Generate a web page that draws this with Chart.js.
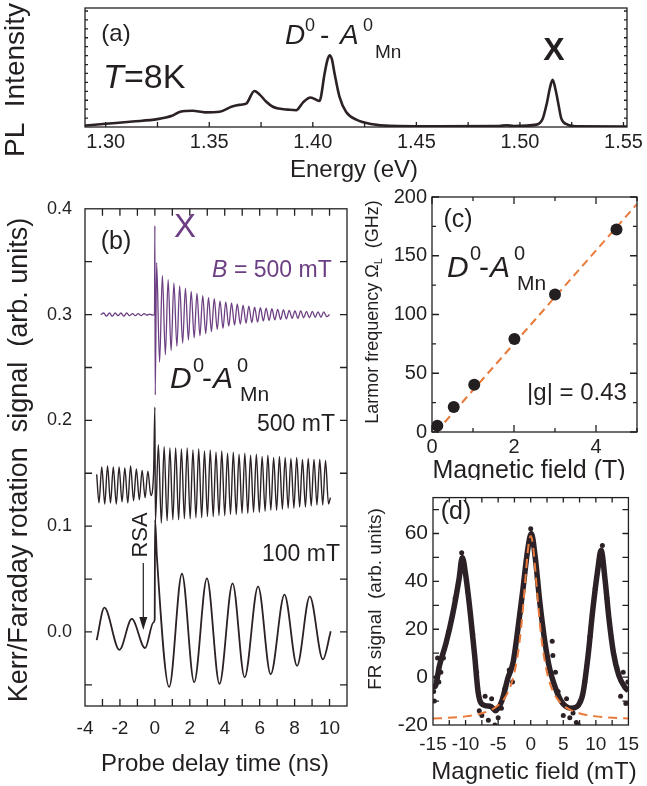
<!DOCTYPE html>
<html>
<head>
<meta charset="utf-8">
<script src="https://cdn.jsdelivr.net/npm/chart.js@4.4.1/dist/chart.umd.min.js"></script>
<style>
  body { margin: 0; background: #fff; width: 647px; height: 786px; position: relative; overflow: hidden; }
  canvas { position: absolute; }
</style>
</head>
<body>
<canvas id="pa" style="left:0px;top:0px" width="647" height="185"></canvas>
<canvas id="pb" style="left:0px;top:185px" width="360" height="601"></canvas>
<canvas id="pc" style="left:360px;top:180px" width="287" height="300"></canvas>
<canvas id="pd" style="left:360px;top:480px" width="287" height="306"></canvas>
<script>
var INK = '#231f20';
var TRACE = '#2b2126';
var PURPLE = '#6c3f82';
var ORANGE = '#e87a3c';
var FONT = "'Liberation Sans', Arial, Helvetica, sans-serif";

// (a) PL spectrum, [energy eV, intensity]
var plSpectrum = [
  [1.290,0.012],[1.300,0.027],[1.313,0.046],[1.325,0.066],[1.332,0.094],[1.336,0.128],[1.342,0.136],
  [1.348,0.123],[1.355,0.128],[1.361,0.172],[1.3645,0.186],[1.3678,0.196],[1.3718,0.303],[1.3745,0.27],
  [1.3774,0.214],[1.3807,0.17],[1.3836,0.155],[1.388,0.146],[1.392,0.141],[1.3952,0.205],[1.3989,0.248],
  [1.4032,0.219],[1.4057,0.45],[1.407,0.56],[1.4081,0.603],[1.4092,0.57],[1.4105,0.45],[1.4129,0.253],
  [1.4161,0.126],[1.421,0.062],[1.429,0.023],[1.437,0.01],[1.46,0.006],[1.49,0.008],[1.4935,0.015],
  [1.497,0.008],[1.508,0.02],[1.511,0.07],[1.513,0.2],[1.5145,0.33],[1.5158,0.396],[1.517,0.33],
  [1.5185,0.2],[1.52,0.07],[1.523,0.02],[1.527,0.006],[1.5517,0.004]
];
var aLabels = [1.30, 1.35, 1.40, 1.45, 1.50, 1.55];
var aMarksX = [1.30,1.325,1.35,1.375,1.40,1.425,1.45,1.475,1.50,1.525,1.55];
var aMarksY = [0.075,0.15,0.225,0.3,0.375,0.45,0.525,0.6,0.675,0.75,0.825,0.9,0.975];

// (b) time traces, [delay ns, signal]
var purpleTrace = [
  [-3.1,0.300],[-2.93,0.3015],[-2.77,0.2985],[-2.6,0.3015],[-2.44,0.2985],[-2.27,0.3015],[-2.11,0.299],
  [-1.94,0.3015],[-1.78,0.2985],[-1.61,0.3015],[-1.45,0.299],[-1.28,0.301],[-1.12,0.299],[-0.95,0.301],
  [-0.79,0.299],[-0.62,0.301],[-0.46,0.2995],[-0.29,0.3005],[-0.13,0.2995],[-0.02,0.300],
  [0.0,0.384],[0.02,0.224],[0.1,0.349],[0.27,0.255],[0.43,0.337],[0.6,0.262],[0.76,0.333],[0.93,0.266],
  [1.09,0.330],[1.26,0.270],[1.42,0.327],[1.59,0.273],[1.75,0.325],[1.92,0.276],[2.08,0.322],[2.25,0.278],
  [2.41,0.320],[2.58,0.280],[2.74,0.318],[2.91,0.282],[3.07,0.316],[3.24,0.284],[3.4,0.315],[3.57,0.286],
  [3.73,0.313],[3.9,0.287],[4.06,0.312],[4.23,0.289],[4.39,0.311],[4.56,0.290],[4.72,0.310],[4.89,0.291],
  [5.05,0.309],[5.22,0.292],[5.38,0.308],[5.55,0.2925],[5.71,0.307],[5.88,0.293],[6.04,0.3065],[6.21,0.294],
  [6.37,0.306],[6.54,0.2945],[6.7,0.3055],[6.87,0.295],[7.03,0.305],[7.2,0.2955],[7.36,0.3045],[7.53,0.296],
  [7.69,0.304],[7.86,0.2965],[8.02,0.3035],[8.19,0.2965],[8.35,0.3035],[8.52,0.297],[8.68,0.303],[8.85,0.297],
  [9.01,0.303],[9.18,0.2975],[9.34,0.3025],[9.51,0.2975],[9.67,0.3025],[9.84,0.298],[10.0,0.300]
];
var trace500 = [
  [-3.33,0.149],[-3.2,0.122],[-3.04,0.156],[-2.87,0.121],[-2.71,0.157],[-2.54,0.122],[-2.38,0.156],
  [-2.21,0.121],[-2.05,0.156],[-1.88,0.123],[-1.72,0.155],[-1.55,0.122],[-1.39,0.157],[-1.22,0.124],
  [-1.06,0.154],[-0.89,0.125],[-0.73,0.153],[-0.56,0.127],[-0.4,0.152],[-0.23,0.129],[-0.07,0.152],
  [0.0,0.2125],[0.03,0.104],
  [0.2,0.177],[0.37,0.103],[0.53,0.175],[0.7,0.105],[0.86,0.174],[1.03,0.106],[1.19,0.174],[1.36,0.106],
  [1.52,0.173],[1.69,0.107],[1.85,0.174],[2.02,0.107],[2.18,0.172],[2.35,0.108],[2.51,0.173],[2.68,0.108],
  [2.84,0.171],[3.01,0.109],[3.17,0.172],[3.34,0.109],[3.5,0.170],[3.67,0.110],[3.83,0.171],[4.0,0.110],
  [4.16,0.169],[4.33,0.111],[4.49,0.170],[4.66,0.111],[4.82,0.168],[4.99,0.112],[5.15,0.169],[5.32,0.112],
  [5.48,0.167],[5.65,0.113],[5.81,0.168],[5.98,0.113],[6.14,0.166],[6.31,0.114],[6.47,0.167],[6.64,0.115],
  [6.8,0.165],[6.97,0.115],[7.13,0.166],[7.3,0.116],[7.46,0.165],[7.63,0.117],[7.79,0.164],[7.96,0.117],
  [8.12,0.165],[8.29,0.118],[8.45,0.163],[8.62,0.118],[8.78,0.164],[8.95,0.119],[9.11,0.163],[9.28,0.120],
  [9.44,0.163],[9.61,0.120],[9.77,0.162],[9.94,0.121],[10.05,0.127]
];
var trace100 = [
  [-3.33,-0.0077],[-2.89,0.023],[-2.03,-0.0169],[-1.32,0.0123],[-0.56,-0.0153],[-0.08,0.009],[-0.01,0.012],
  [0.01,0.106],[0.12,0.07],[0.82,-0.052],[1.55,0.055],[2.25,-0.0475],[2.98,0.0506],[3.70,-0.049],
  [4.45,0.046],[5.14,-0.043],[5.91,0.043],[6.63,-0.040],[7.42,0.0353],[8.14,-0.032],[8.87,0.0337],
  [9.62,-0.026],[10.07,0.0006]
];
var bLabelsX = [-4, -2, 0, 2, 4, 6, 8, 10];
var bLabelsY = [0.0, 0.1, 0.2, 0.3, 0.4];
var bMarksX = [-3,-2,-1,0,1,2,3,4,5,6,7,8,9,10];
var bMarksY = [-0.05,0,0.05,0.1,0.15,0.2,0.25,0.3,0.35];

// (c) Larmor frequency vs field, [T, GHz]
var larmorPoints = [[0.13,5.3],[0.53,21.2],[1.03,40.2],[2.01,79.2],[3.0,117],[4.5,172.4]];
var larmorFit = [[0.1,0],[5,194]];
var cLabelsX = [0, 2, 4];
var cLabelsY = [0, 50, 100, 150, 200];
var cMinorX = [1, 3, 5];
var cMinorY = [25, 75, 125, 175];

// (d) FR signal vs field, [mT, signal]
var frBand = [
  [-15,-3],[-14.7,-4],[-14.0,4.9],[-13.0,14.2],[-12.0,26],[-11.0,41],[-10.5,50],[-10.0,43],[-9.3,27.4],
  [-8.6,8.9],[-8.1,-5.7],[-7.6,-11],[-6.8,-12],[-6.1,-12.3],[-5.4,-14],[-4.4,-9.7],[-3.5,-0.4],[-2.7,6.2],
  [-2.0,19.4],[-1.2,36.6],[-0.5,52.5],[0.1,60],[0.7,49.9],[1.4,31.3],[2.2,14.2],[2.9,3.6],[3.6,-3],
  [4.6,-9.7],[5.3,-12],[6.1,-13],[7.1,-12.3],[8.0,-7],[8.8,8.9],[9.5,27.4],[10.3,45],[10.8,53],
  [11.4,41],[12.0,24.7],[12.7,10.2],[13.5,0.9],[14.5,-4.4],[15,-5.7]
];
var frNoise = [
  [-14.8,-10],[-14.5,0],[-14.3,8],[-13.8,2],[-14.9,-6],[-14.1,-2],[-13.4,8],[-12.6,19],[-11.6,33],
  [-9.7,36],[-8.9,18],[-8.3,2],[-7.9,-14],[-7.5,-16],[-7,-8],[-6.5,-18],[-6,-9],[-5.5,-20],[-5,-17],
  [-4.5,-13],[-4,-5],[-3.3,3],[-2.8,-2],[-2.3,12],[-1.6,27],[-0.8,46],[0.4,56],[1.0,41],[1.8,22],
  [2.6,8],[3.3,15],[3.4,9],[3.8,2],[4.2,-6],[5,-16],[5.5,-9],[6,-17],[6.5,-15],[7,-19],[7.3,-20],
  [7.6,-10],[8.3,-2],[9.1,17],[9.9,37],[11.7,33],[12.4,16],[13.2,4],[13.8,-8],[14.6,-11],[14.2,2],
  [14.9,-2],[-10.6,52],[0,62],[11,55],[-10.3,46],[10.9,48]
];
var frFit = [
  [-15,-17.3],[-12,-16.9],[-10,-16.4],[-8,-15.5],[-7,-14.7],[-6,-13.6],[-5,-11.8],[-4,-8.8],[-3.5,-6.4],
  [-3,-3.0],[-2.5,1.9],[-2,9.2],[-1.75,14.0],[-1.5,19.9],[-1.25,26.9],[-1,34.8],[-0.75,43.2],[-0.5,51.1],
  [-0.25,56.9],[0,59],[0.25,56.9],[0.5,51.1],[0.75,43.2],[1,34.8],[1.25,26.9],[1.5,19.9],[1.75,14.0],
  [2,9.2],[2.5,1.9],[3,-3.0],[3.5,-6.4],[4,-8.8],[5,-11.8],[6,-13.6],[7,-14.7],[8,-15.5],[10,-16.4],
  [12,-16.9],[15,-17.3]
];
var dLabelsX = [-15, -10, -5, 0, 5, 10, 15];
var dLabelsY = [-20, 0, 20, 40, 60];
var dMarksX = [-12.5,-10,-7.5,-5,-2.5,0,2.5,5,7.5,10,12.5];
var dMarksY = [-10,0,10,20,30,40,50,60,70];

function pts(arr) {
  return arr.map(function (p) { return { x: p[0], y: p[1] }; });
}

function axis(min, max, labels, fitSize, pad, size, fmt, horizontal) {
  return {
    type: 'linear', min: min, max: max,
    grid: { display: false, drawTicks: false }, border: { display: false },
    ticks: {
      display: labels.length > 0, padding: pad, color: INK, autoSkip: false, maxRotation: 0,
      font: { family: FONT, size: size }, callback: fmt
    },
    afterBuildTicks: function (s) { s.ticks = labels.map(function (v) { return { value: v }; }); },
    afterFit: function (s) { if (horizontal) s.height = fitSize; else s.width = fitSize; }
  };
}

function line(data, color, width, extra) {
  var d = {
    data: pts(data), borderColor: color, borderWidth: width, pointRadius: 0,
    fill: false, cubicInterpolationMode: 'monotone'
  };
  for (var k in extra) d[k] = extra[k];
  return d;
}

// box, inward tick marks and free text
var framePlugin = {
  id: 'frame',
  afterDraw: function (chart, args, o) {
    var ctx = chart.ctx, a = chart.chartArea, sx = chart.scales.x, sy = chart.scales.y;
    ctx.save();
    ctx.strokeStyle = INK;
    ctx.lineWidth = 1.3;
    ctx.strokeRect(a.left, a.top, a.right - a.left, a.bottom - a.top);
    ctx.beginPath();
    (o.xMarks || []).forEach(function (m) {
      m[0].forEach(function (v) {
        var px = sx.getPixelForValue(v);
        ctx.moveTo(px, a.bottom); ctx.lineTo(px, a.bottom - m[1]);
        if (o.top) { ctx.moveTo(px, a.top); ctx.lineTo(px, a.top + m[1]); }
      });
    });
    (o.yMarks || []).forEach(function (m) {
      m[0].forEach(function (v) {
        var py = sy.getPixelForValue(v);
        ctx.moveTo(a.left, py); ctx.lineTo(a.left + m[1], py);
        ctx.moveTo(a.right, py); ctx.lineTo(a.right - m[1], py);
      });
    });
    ctx.stroke();

    ctx.translate(-o.ox, -o.oy);
    (o.arrows || []).forEach(function (ar) {
      ctx.beginPath();
      ctx.lineWidth = 1.2;
      ctx.moveTo(ar[0], ar[1]); ctx.lineTo(ar[0], ar[2] - 10);
      ctx.stroke();
      ctx.beginPath();
      ctx.fillStyle = INK;
      ctx.moveTo(ar[0] - 4, ar[2] - 13); ctx.lineTo(ar[0] + 4, ar[2] - 13); ctx.lineTo(ar[0], ar[2]);
      ctx.closePath(); ctx.fill();
    });
    (o.texts || []).forEach(function (t) {
      ctx.save();
      ctx.translate(t.x, t.y);
      if (t.rot) ctx.rotate(t.rot);
      ctx.fillStyle = t.color || INK;
      ctx.textBaseline = t.base || 'middle';
      if (t.runs) {
        var w = 0;
        t.runs.forEach(function (r) { ctx.font = r[1]; w += ctx.measureText(r[0]).width; });
        var cx = -w / 2;
        t.runs.forEach(function (r) {
          ctx.font = r[1]; ctx.textAlign = 'left';
          ctx.fillText(r[0], cx, r[2] || 0);
          cx += ctx.measureText(r[0]).width;
        });
      } else {
        ctx.font = t.f;
        ctx.textAlign = t.align || 'left';
        ctx.fillText(t.t, 0, 0);
      }
      ctx.restore();
    });
    ctx.restore();
  }
};

function f(size, style) { return (style ? style + ' ' : '') + size + 'px ' + FONT; }

function makeChart(id, datasets, scales, padding, frame) {
  return new Chart(document.getElementById(id), {
    type: 'line',
    data: { datasets: datasets },
    options: {
      responsive: false, animation: false, events: [],
      layout: { padding: padding },
      plugins: { legend: { display: false }, tooltip: { enabled: false }, frame: frame },
      scales: scales
    },
    plugins: [framePlugin]
  });
}

// (a)
makeChart('pa',
  [line(plSpectrum, TRACE, 2.6)],
  {
    x: axis(1.29, 1.5517, aLabels, 58, 3, 20, function (v) { return v.toFixed(2); }, true),
    y: axis(0, 1, [], 85, 0, 10, null, false)
  },
  { top: 8, right: 20, left: 0, bottom: 0 },
  {
    ox: 0, oy: 0,
    xMarks: [[aMarksX, 5]], yMarks: [[aMarksY, 3]],
    texts: [
      { x: 116, y: 34, t: '(a)', f: f(24), align: 'center' },
      { x: 103, y: 88, t: 'T', f: f(34, 'italic'), base: 'alphabetic' },
      { x: 124, y: 88, t: '=8K', f: f(34), base: 'alphabetic' },
      { x: 285, y: 44, t: 'D', f: f(28, 'italic'), base: 'alphabetic' },
      { x: 305, y: 31, t: '0', f: f(18), base: 'alphabetic' },
      { x: 320, y: 44, t: '-', f: f(28), base: 'alphabetic' },
      { x: 340, y: 44, t: 'A', f: f(28, 'italic'), base: 'alphabetic' },
      { x: 363, y: 31, t: '0', f: f(18), base: 'alphabetic' },
      { x: 375, y: 58, t: 'Mn', f: f(19), base: 'alphabetic' },
      { x: 554, y: 60, t: 'X', f: f(32, 'bold'), align: 'center', base: 'alphabetic' },
      { x: 354, y: 170, t: 'Energy (eV)', f: f(24), align: 'center' },
      { x: 16, y: 80, t: 'PL  Intensity', f: f(28), align: 'center', rot: -Math.PI / 2 }
    ]
  });

// (b)
makeChart('pb',
  [
    line(purpleTrace, PURPLE, 1.3),
    line(trace500, TRACE, 1.4),
    line(trace100, TRACE, 1.8)
  ],
  {
    x: axis(-4, 11, bLabelsX, 80, 11, 19, function (v) { return String(v); }, true),
    y: axis(-0.07, 0.4, bLabelsY, 85, 13, 18, function (v) { return v.toFixed(1); }, false)
  },
  { top: 10, right: 13, left: 0, bottom: 0 },
  {
    ox: 0, oy: 185, top: true,
    xMarks: [[bMarksX, 7]], yMarks: [[bMarksY, 7]],
    arrows: [[143.3, 563, 630]],
    texts: [
      { x: 116, y: 242, t: '(b)', f: f(25), align: 'center' },
      { x: 185, y: 228, t: 'X', f: f(33), align: 'center', color: PURPLE },
      { x: 212, y: 277, t: 'B', f: f(23, 'italic'), base: 'alphabetic', color: PURPLE },
      { x: 227.5, y: 277, t: ' = 500 mT', f: f(23), base: 'alphabetic', color: PURPLE },
      { x: 170, y: 388, t: 'D', f: f(30, 'italic'), base: 'alphabetic' },
      { x: 193, y: 372, t: '0', f: f(20), base: 'alphabetic' },
      { x: 202, y: 388, t: '-', f: f(30), base: 'alphabetic' },
      { x: 213, y: 388, t: 'A', f: f(30, 'italic'), base: 'alphabetic' },
      { x: 237, y: 372, t: '0', f: f(20), base: 'alphabetic' },
      { x: 240, y: 401, t: 'Mn', f: f(21), base: 'alphabetic' },
      { x: 335, y: 425, t: '500 mT', f: f(23), align: 'right' },
      { x: 340, y: 555, t: '100 mT', f: f(23), align: 'right' },
      { x: 141, y: 535, t: 'RSA', f: f(22), align: 'center', rot: -Math.PI / 2 },
      { x: 215, y: 764, t: 'Probe delay time (ns)', f: f(24), align: 'center' },
      { x: 20, y: 460, t: 'Kerr/Faraday rotation  signal  (arb. units)', f: f(27), align: 'center', rot: -Math.PI / 2 }
    ]
  });

// (c)
makeChart('pc',
  [
    { data: pts(larmorPoints), showLine: false, pointRadius: 6, pointBackgroundColor: INK, pointBorderWidth: 0 },
    line(larmorFit, ORANGE, 2, { borderDash: [8, 5], cubicInterpolationMode: 'default' })
  ],
  {
    x: axis(0, 5, cLabelsX, 48, 3, 20, function (v) { return String(v); }, true),
    y: axis(0, 200, cLabelsY, 72, 5, 20, function (v) { return String(v); }, false)
  },
  { top: 13, right: 10, left: 0, bottom: 0 },
  {
    ox: 360, oy: 180, top: true,
    xMarks: [[cLabelsX, 7], [cMinorX, 4]], yMarks: [[cLabelsY, 7], [cMinorY, 4]],
    texts: [
      { x: 458, y: 220, t: '(c)', f: f(25), align: 'center' },
      { x: 447, y: 277, t: 'D', f: f(30, 'italic'), base: 'alphabetic' },
      { x: 470, y: 260, t: '0', f: f(20), base: 'alphabetic' },
      { x: 479, y: 277, t: '-', f: f(30), base: 'alphabetic' },
      { x: 490, y: 277, t: 'A', f: f(30, 'italic'), base: 'alphabetic' },
      { x: 514, y: 260, t: '0', f: f(20), base: 'alphabetic' },
      { x: 517, y: 290, t: 'Mn', f: f(21), base: 'alphabetic' },
      { x: 577, y: 393, t: '|g| = 0.43', f: f(24), align: 'center' },
      { x: 529, y: 471, t: 'Magnetic field (T)', f: f(25), align: 'center' },
      { x: 373.5, y: 312, rot: -Math.PI / 2, runs: [
        ['Larmor frequency \u03A9', f(18), 0], ['L', f(11), 5], ['  (GHz)', f(18), 0]
      ] }
    ]
  });

// (d)
makeChart('pd',
  [
    line(frFit, ORANGE, 2, { borderDash: [9, 6] }),
    { data: pts(frNoise), showLine: false, pointRadius: 2.5, pointBackgroundColor: TRACE, pointBorderWidth: 0 },
    line(frBand, TRACE, 5.5)
  ],
  {
    x: axis(-15, 15, dLabelsX, 61, 8, 19, function (v) { return String(v); }, true),
    y: axis(-20, 75, dLabelsY, 73, 5, 21, function (v) { return String(v); }, false)
  },
  { top: 5, right: 10, left: 0, bottom: 0 },
  {
    ox: 360, oy: 480, top: true,
    xMarks: [[dMarksX, 5]], yMarks: [[dMarksY, 6]],
    texts: [
      { x: 456, y: 512, t: '(d)', f: f(25), align: 'center' },
      { x: 534, y: 772, t: 'Magnetic field (mT)', f: f(24), align: 'center' },
      { x: 376, y: 599, t: 'FR signal  (arb. units)', f: f(19), align: 'center', rot: -Math.PI / 2 }
    ]
  });
</script>
</body>
</html>
